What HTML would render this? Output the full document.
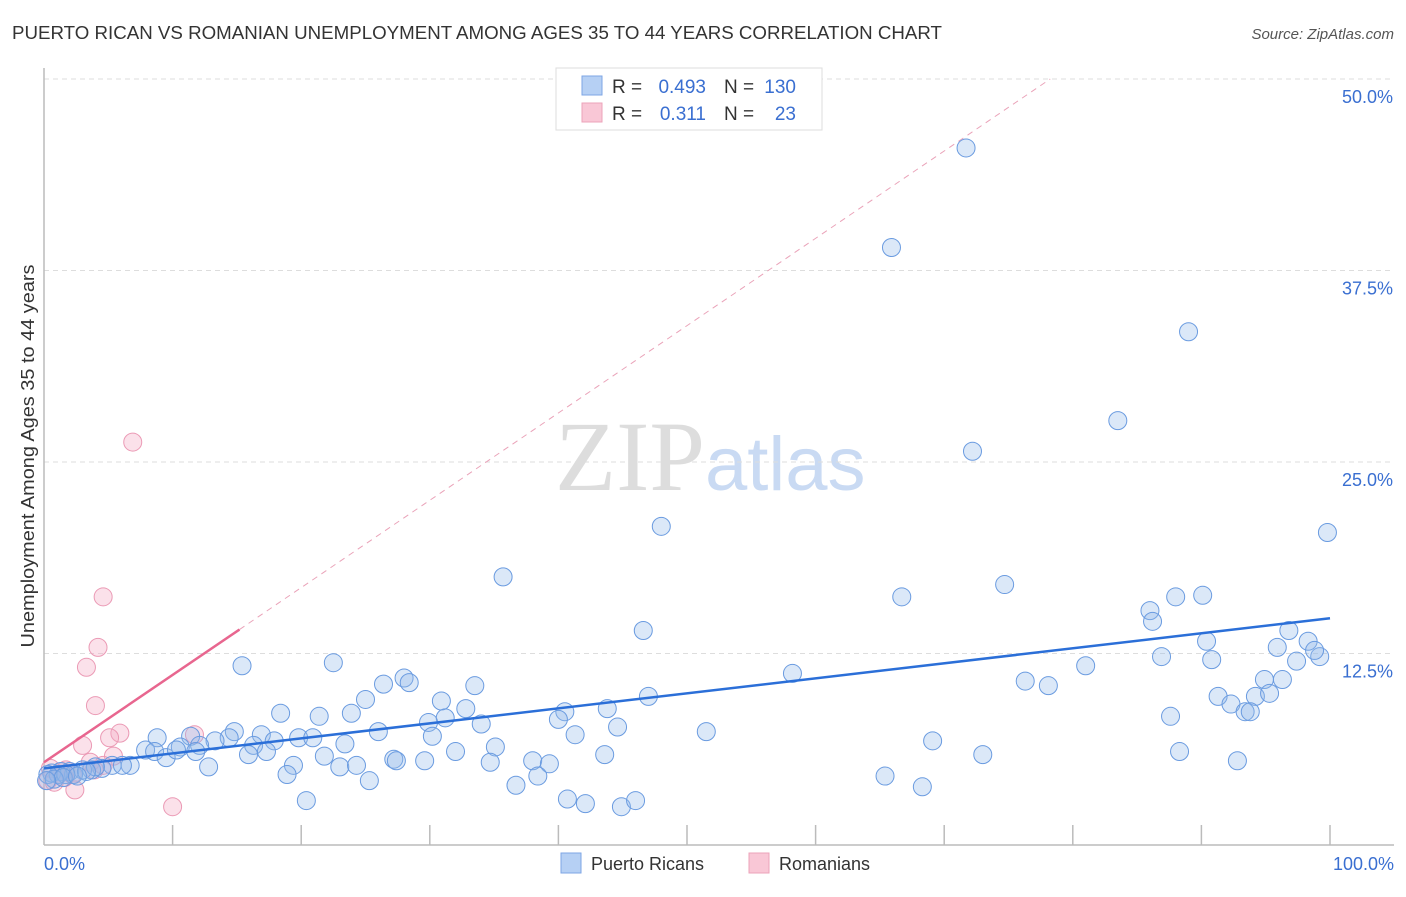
<!DOCTYPE html>
<html><head><meta charset="utf-8"><style>
body{margin:0;background:#fff;width:1406px;height:892px;overflow:hidden;font-family:"Liberation Sans",sans-serif;}
svg text{font-family:"Liberation Sans",sans-serif;}
</style></head><body>
<svg id="chart" width="1406" height="892" xmlns="http://www.w3.org/2000/svg">
<text x="12" y="39" font-size="18" fill="#333" textLength="930" lengthAdjust="spacingAndGlyphs">PUERTO RICAN VS ROMANIAN UNEMPLOYMENT AMONG AGES 35 TO 44 YEARS CORRELATION CHART</text>
<text x="1394" y="39" font-size="15" fill="#555" font-style="italic" text-anchor="end">Source: ZipAtlas.com</text>
<text transform="translate(34,456) rotate(-90)" font-size="18" fill="#333" text-anchor="middle" textLength="383" lengthAdjust="spacingAndGlyphs">Unemployment Among Ages 35 to 44 years</text>
<text x="555" y="490" font-size="100"><tspan fill="#ddd" font-family="Liberation Serif">ZIP</tspan><tspan fill="#c9daf3" font-size="76">atlas</tspan></text>
<g id="grid"></g>
<g id="axes"></g>
<g id="lines"></g>
<g id="pts"></g>
<g font-size="19">
<rect x="556" y="68" width="266" height="62" fill="#fff" stroke="#ddd"/>
<rect x="582" y="76" width="20" height="19" fill="#b6d0f4" stroke="#7ea6e4"/>
<rect x="582" y="103" width="20" height="19" fill="#f9c7d6" stroke="#eca3ba"/>
<text x="612" y="93" fill="#333">R =</text>
<text x="706" y="93" fill="#3a6fd1" text-anchor="end">0.493</text>
<text x="724" y="93" fill="#333">N =</text>
<text x="796" y="93" fill="#3a6fd1" text-anchor="end">130</text>
<text x="612" y="120" fill="#333">R =</text>
<text x="706" y="120" fill="#3a6fd1" text-anchor="end">0.311</text>
<text x="724" y="120" fill="#333">N =</text>
<text x="796" y="120" fill="#3a6fd1" text-anchor="end">23</text>
</g>
<g>
<rect x="561" y="853" width="20" height="20" fill="#b6d0f4" stroke="#7ea6e4"/>
<text x="591" y="870" font-size="18" fill="#333">Puerto Ricans</text>
<rect x="749" y="853" width="20" height="20" fill="#f9c7d6" stroke="#eca3ba"/>
<text x="779" y="870" font-size="18" fill="#333">Romanians</text>
</g>
</svg>
<script>
const yTicks=[12.5,25,37.5,50];
const yTickLabels=["12.5%","25.0%","37.5%","50.0%"];
const xTickLabels=["0.0%","100.0%"];
const blueX=[71.7,65.9,89.0,83.5,72.2,48.0,99.8,35.7,66.7,74.7,86.0,88.0,90.1,86.2,46.6,96.8,90.4,95.9,98.3,86.9,90.8,97.4,99.2,98.8,15.4,22.5,58.2,81.0,76.3,78.1,94.9,96.3,91.3,92.3,94.2,95.3,93.4,93.8,28.0,26.4,28.4,33.5,25.0,30.9,32.8,47.0,43.8,40.5,40.0,31.2,29.9,34.0,23.9,21.4,18.4,44.6,51.5,87.6,14.8,26.0,30.2,41.3,8.8,11.4,14.4,16.9,19.8,20.9,23.4,35.1,32.0,17.9,16.3,13.3,12.1,10.6,7.9,8.6,9.5,10.3,11.8,15.9,17.3,19.4,21.8,27.2,27.4,29.6,34.7,38.0,39.3,43.6,69.1,73.0,88.3,92.8,23.0,24.3,12.8,6.7,5.3,6.1,4.5,3.7,3.0,2.0,1.3,0.6,25.3,18.9,36.7,38.4,65.4,68.3,20.4,40.7,42.1,44.9,46.0,2.3,4.0,1.1,1.7,0.3,3.3,0.8,1.5,2.6,0.2];
const blueY=[45.5,39.0,33.5,27.7,25.7,20.8,20.4,17.5,16.2,17.0,15.3,16.2,16.3,14.6,14.0,14.0,13.3,12.9,13.3,12.3,12.1,12.0,12.3,12.7,11.7,11.9,11.2,11.7,10.7,10.4,10.8,10.8,9.7,9.2,9.7,9.9,8.7,8.7,10.9,10.5,10.6,10.4,9.5,9.4,8.9,9.7,8.9,8.7,8.2,8.3,8.0,7.9,8.6,8.4,8.6,7.7,7.4,8.4,7.4,7.4,7.1,7.2,7.0,7.1,7.0,7.2,7.0,7.0,6.6,6.4,6.1,6.8,6.5,6.8,6.5,6.4,6.2,6.1,5.7,6.2,6.1,5.9,6.1,5.2,5.8,5.6,5.5,5.5,5.4,5.5,5.3,5.9,6.8,5.9,6.1,5.5,5.1,5.2,5.1,5.2,5.2,5.2,5.0,4.9,4.9,4.8,4.8,4.7,4.2,4.6,3.9,4.5,4.5,3.8,2.9,3.0,2.7,2.5,2.9,4.6,5.1,4.6,4.6,4.6,4.8,4.3,4.4,4.5,4.2];
const pinkX=[6.9,4.6,4.2,3.3,4.0,5.9,5.1,11.7,3.0,5.4,3.6,3.9,0.5,1.1,1.6,2.2,1.7,0.3,0.8,2.4,1.4,10.0,4.6];
const pinkY=[26.3,16.2,12.9,11.6,9.1,7.3,7.0,7.2,6.5,5.8,5.4,4.9,5.0,4.6,4.4,4.6,4.9,4.2,4.1,3.6,4.8,2.5,5.2];
const blueFit=[5.0,14.8];   // y at x=0, x=100
const pinkFit=[5.4,0.57];   // intercept, slope
const pinkSolidEnd=15.2;

const X0=44,X1=1330,Y0=845,PX_PER=15.32;
const sx=v=>X0+(X1-X0)*v/100;
const sy=v=>Y0-v*PX_PER;
const NS="http://www.w3.org/2000/svg";
function mk(tag,attrs,parent){const e=document.createElementNS(NS,tag);for(const k in attrs)e.setAttribute(k,attrs[k]);parent.appendChild(e);return e;}
const grid=document.getElementById('grid'),axes=document.getElementById('axes'),lines=document.getElementById('lines'),pts=document.getElementById('pts');
yTicks.forEach((t,i)=>{
 const l=mk('line',{x1:X0,x2:1394,y1:sy(t),y2:sy(t),stroke:'#ddd','stroke-dasharray':'5,4'},grid);
 
 
 const tx=mk('text',{x:1393,y:sy(t)+24,'font-size':18,fill:'#3a6fd1','text-anchor':'end'},grid);
 tx.textContent=yTickLabels[i];
 
 
});
const ya=mk('line',{x1:X0,x2:X0,y1:68,y2:Y0,stroke:'#bbb','stroke-width':1.5},axes);


const xa=mk('line',{x1:X0,x2:1394,y1:Y0,y2:Y0,stroke:'#bbb','stroke-width':1.5},axes);


for(let i=1;i<=10;i++){
 const t=mk('line',{x1:sx(i*10),x2:sx(i*10),y1:Y0-20,y2:Y0,stroke:'#bbb','stroke-width':1.5},axes);
 
 
}
[[0,'start',44],[100,'end',1394]].forEach((d,i)=>{
 const tx=mk('text',{x:d[2],y:870,'font-size':18,fill:'#3a6fd1','text-anchor':d[1]},axes);
 tx.textContent=xTickLabels[i];
 
 
});
const xEnd=(50-pinkFit[0])/pinkFit[1];
const pd=mk('line',{x1:sx(pinkSolidEnd),y1:sy(pinkFit[0]+pinkFit[1]*pinkSolidEnd),x2:sx(xEnd),y2:sy(50),stroke:'#eaa3b9','stroke-dasharray':'6,5','stroke-width':1},lines);


pinkX.forEach((x,i)=>{
 const c=mk('circle',{cx:sx(x),cy:sy(pinkY[i]),r:9,fill:'rgba(244,170,195,0.35)',stroke:'#eb9ab5','stroke-width':1},pts);
 
 
});
blueX.forEach((x,i)=>{
 const c=mk('circle',{cx:sx(x),cy:sy(blueY[i]),r:9,fill:'rgba(147,185,235,0.33)',stroke:'#6a9be0','stroke-width':1},pts);
 
 
});
const bl=mk('line',{x1:sx(0),y1:sy(blueFit[0]),x2:sx(100),y2:sy(blueFit[1]),stroke:'#2b6fd8','stroke-width':2.5},pts);


const pl=mk('line',{x1:sx(0),y1:sy(pinkFit[0]),x2:sx(pinkSolidEnd),y2:sy(pinkFit[0]+pinkFit[1]*pinkSolidEnd),stroke:'#e8668f','stroke-width':2.5},pts);


</script>
</body></html>
